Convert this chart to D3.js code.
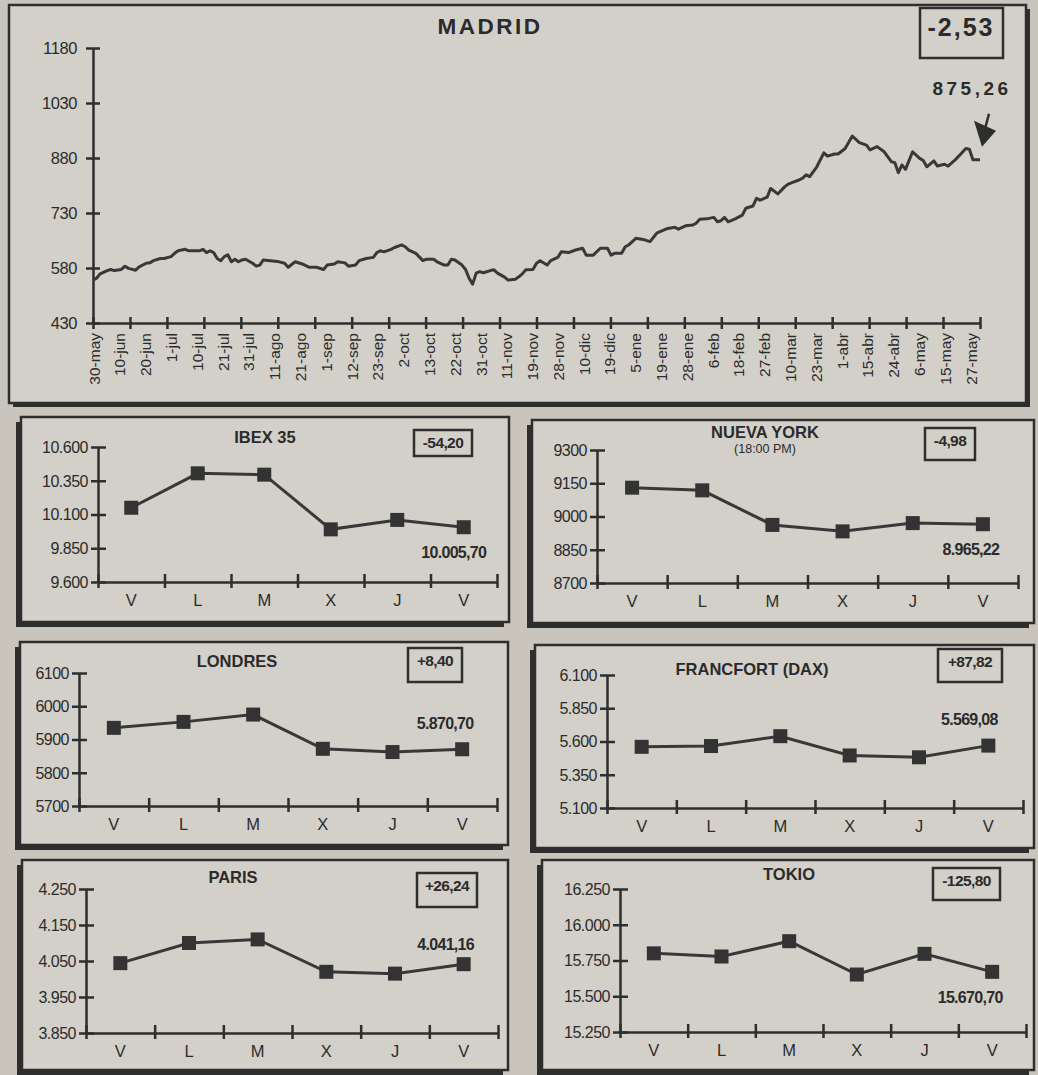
<!DOCTYPE html>
<html>
<head>
<meta charset="utf-8">
<script src="https://cdn.jsdelivr.net/npm/d3@7"></script>
<style>
  body { margin: 0; background: #c9c5bd; }
  svg text { font-family: "Liberation Sans", Arial, sans-serif; fill: #2b2b2b; }
</style>
</head>
<body>
<div id="canvas"></div>
<script>
// ---- Madrid general index, one value per trading session (30-may .. 27-may)
const madridSessions = [0, 1, 2, 4, 5, 6, 8, 9, 10, 12, 13, 15, 16, 17, 19, 20, 22, 23, 24, 26, 27, 30, 31, 32, 33, 34, 35, 36, 37, 38, 39, 40, 41, 42, 43, 45, 46, 47, 48, 50, 52, 54, 55, 57, 59, 61, 63, 65, 66, 68, 69, 71, 72, 74, 75, 77, 79, 80, 81, 82, 84, 85, 87, 88, 89, 91, 93, 94, 96, 97, 99, 100, 101, 102, 104, 105, 106, 107, 108, 109, 110, 112, 113, 114, 116, 117, 119, 120, 121, 122, 124, 125, 126, 128, 129, 131, 132, 134, 136, 138, 139, 141, 143, 145, 146, 147, 149, 150, 151, 153, 155, 157, 159, 161, 162, 164, 165, 167, 169, 170, 171, 173, 175, 176, 177, 178, 179, 181, 183, 184, 186, 187, 188, 190, 191, 193, 195, 196, 197, 199, 200, 201, 202, 204, 206, 207, 209, 210, 212, 214, 216, 218, 219, 221, 223, 225, 226, 227, 228, 229, 231, 233, 234, 235, 237, 238, 240, 241, 243, 244, 246, 247, 248, 250];
const madridValues = [547, 552, 564, 573, 576, 573, 576, 585, 579, 574, 583, 593, 594, 600, 606, 606, 611, 620, 627, 631, 627, 627, 631, 622, 627, 622, 606, 600, 611, 616, 597, 604, 597, 602, 604, 593, 585, 588, 602, 600, 598, 593, 582, 597, 591, 582, 582, 576, 588, 591, 597, 594, 585, 588, 600, 606, 609, 622, 627, 624, 631, 636, 643, 638, 629, 620, 600, 604, 604, 597, 588, 588, 604, 602, 588, 576, 552, 536, 566, 570, 567, 573, 575, 566, 555, 547, 549, 556, 564, 575, 576, 593, 600, 588, 600, 609, 624, 622, 629, 634, 615, 615, 634, 634, 615, 620, 620, 638, 643, 661, 658, 652, 676, 684, 688, 691, 686, 695, 697, 702, 713, 714, 718, 706, 709, 718, 706, 714, 724, 743, 749, 770, 765, 773, 797, 782, 802, 809, 813, 820, 825, 834, 829, 856, 894, 885, 891, 891, 906, 940, 922, 915, 902, 911, 897, 870, 867, 840, 861, 849, 897, 879, 873, 856, 872, 858, 863, 858, 875, 885, 906, 904, 875, 875.26];
const madridTicks = [430, 580, 730, 880, 1030, 1180];
const madridDates = ["30-may", "10-jun", "20-jun", "1-jul", "10-jul", "21-jul", "31-jul", "11-ago", "21-ago", "1-sep", "12-sep", "23-sep", "2-oct", "13-oct", "22-oct", "31-oct", "11-nov", "19-nov", "28-nov", "10-dic", "19-dic", "5-ene", "19-ene", "28-ene", "6-feb", "18-feb", "27-feb", "10-mar", "23-mar", "1-abr", "15-abr", "24-abr", "6-may", "15-may", "27-may"];
const madridChange = -2.53;

// ---- weekly panels
const days = ["V", "L", "M", "X", "J", "V"];
const ibexValues = [10150, 10405, 10395, 9990, 10059.90, 10005.70];
const ibexTicks = [9600, 9850, 10100, 10350, 10600];
const nyValues = [9130, 9118, 8962, 8933, 8970.20, 8965.22];
const nyTicks = [8700, 8850, 9000, 9150, 9300];
const londresValues = [5935, 5953, 5975, 5872, 5862.30, 5870.70];
const londresTicks = [5700, 5800, 5900, 6000, 6100];
const francfortValues = [5560, 5566, 5640, 5495, 5481.26, 5569.08];
const francfortTicks = [5100, 5350, 5600, 5850, 6100];
const parisValues = [4044, 4100, 4110, 4020, 4014.92, 4041.16];
const parisTicks = [3850, 3950, 4050, 4150, 4250];
const tokioValues = [15800, 15778, 15885, 15652, 15796.50, 15670.70];
const tokioTicks = [15250, 15500, 15750, 16000, 16250];

const ink = "#2e2e2e";
const paper = "#d3d0c9";

const loc = d3.formatLocale({ decimal: ",", thousands: ".", grouping: [3], currency: ["", ""], minus: "-" });
const fmtChange = loc.format("+.2f");
const fmtValue = loc.format(",.2f");
const fmtGroup = loc.format(",d");
const fmtPlain = loc.format("d");

const svg = d3.select("#canvas").append("svg")
    .attr("width", 1038)
    .attr("height", 1075);

function frame(x0, y0, x1, y1, sx, sy) {
    svg.append("rect")
        .attr("x", x0 + sx).attr("y", y0 + sy)
        .attr("width", x1 - x0).attr("height", y1 - y0)
        .attr("fill", ink);
    svg.append("rect")
        .attr("x", x0).attr("y", y0)
        .attr("width", x1 - x0).attr("height", y1 - y0)
        .attr("fill", paper)
        .attr("stroke", ink)
        .attr("stroke-width", 2.5);
}

function styleAxis(g) {
    g.select(".domain").attr("stroke", ink).attr("stroke-width", 2.5);
    g.selectAll(".tick line").attr("stroke", ink).attr("stroke-width", 2.5);
}

// ================= MADRID =================
frame(9, 5, 1026, 403, 4, 4);

const mx = d3.scaleLinear().domain([0, 250]).range([93, 980]);
const my = d3.scaleLinear().domain([430, 1180]).range([323, 48]);
const mTickPos = d3.scaleLinear().domain([0, 24]).range([93, 980]);
const mDate = d3.scalePoint().domain(madridDates).range([94, 971]);

// y axis with crossing ticks
const myAxis = svg.append("g")
    .attr("transform", "translate(93,0)")
    .call(d3.axisLeft(my).tickValues(madridTicks).tickSize(7).tickSizeOuter(0).tickFormat(""));
myAxis.selectAll(".tick line").attr("x2", 7).attr("x1", -7);
styleAxis(myAxis);
svg.append("g").selectAll("text")
    .data(madridTicks)
    .join("text")
    .attr("x", 77)
    .attr("y", d => my(d))
    .attr("dy", "0.36em")
    .attr("text-anchor", "end")
    .attr("font-size", 16.5)
    .attr("letter-spacing", -0.4)
    .text(d => fmtPlain(d));

// x axis: evenly spaced ticks, date labels on their own point scale
const mxAxis = svg.append("g")
    .attr("transform", "translate(0,323)")
    .call(d3.axisBottom(mTickPos).tickValues(d3.range(25)).tickSize(6).tickSizeOuter(0).tickFormat(""));
mxAxis.selectAll(".tick line").attr("y1", -6).attr("y2", 6);
styleAxis(mxAxis);
svg.append("g").selectAll("text")
    .data(madridDates)
    .join("text")
    .attr("transform", d => `translate(${mDate(d)},333) rotate(-90)`)
    .attr("dy", "0.36em")
    .attr("text-anchor", "end")
    .attr("font-size", 15.5)
    .text(d => d);

const madridData = madridSessions.map((s, i) => ({ s: s, v: madridValues[i] }));
svg.append("path")
    .datum(madridData)
    .attr("fill", "none")
    .attr("stroke", "#383838")
    .attr("stroke-width", 3)
    .attr("stroke-linejoin", "round")
    .attr("d", d3.line().x(d => mx(d.s)).y(d => my(d.v)));

svg.append("text")
    .attr("x", 490).attr("y", 34)
    .attr("text-anchor", "middle")
    .attr("font-size", 22.5)
    .attr("font-weight", "bold")
    .attr("letter-spacing", 2.5)
    .text("MADRID");

svg.append("rect")
    .attr("x", 920).attr("y", 8).attr("width", 83).attr("height", 50)
    .attr("fill", "none").attr("stroke", ink).attr("stroke-width", 2.5);
svg.append("text")
    .attr("x", 961).attr("y", 36)
    .attr("text-anchor", "middle")
    .attr("font-size", 25)
    .attr("font-weight", "bold")
    .attr("letter-spacing", 2)
    .text(fmtChange(madridChange));

const last = madridData[madridData.length - 1];
const lx = mx(last.s), ly = my(last.v);
svg.append("text")
    .attr("x", lx - 8).attr("y", 95)
    .attr("text-anchor", "middle")
    .attr("font-size", 19)
    .attr("font-weight", "bold")
    .attr("letter-spacing", 3.5)
    .text(fmtValue(last.v));
// arrow pointing at the last value
const tipX = lx + 2, tipY = ly - 13;
svg.append("line")
    .attr("x1", tipX + 7).attr("y1", tipY - 33)
    .attr("x2", tipX + 3).attr("y2", tipY - 18)
    .attr("stroke", ink).attr("stroke-width", 2.5);
svg.append("path")
    .attr("d", `M${tipX},${tipY} L${tipX - 8},${tipY - 26} L${tipX + 14},${tipY - 16} Z`)
    .attr("fill", ink);

// ================= WEEKLY PANELS =================
const panels = [
    { title: "IBEX 35", values: ibexValues, ticks: ibexTicks, change: -54.20, group: true,
      box: [21, 417, 509, 622], ax: 98, yTop: 447, yBot: 582, xEnd: 497,
      tx: 265, ty: 443, cbox: [414, 430, 58, 26], ldx: -10, ldy: 31 },
    { title: "NUEVA YORK", sub: "(18:00 PM)", values: nyValues, ticks: nyTicks, change: -4.98, group: false,
      box: [532, 420, 1034, 623], ax: 597, yTop: 450, yBot: 583, xEnd: 1018,
      tx: 765, ty: 438, cbox: [925, 428, 50, 32], ldx: -12, ldy: 31 },
    { title: "LONDRES", values: londresValues, ticks: londresTicks, change: 8.40, group: false,
      box: [20, 642, 508, 845], ax: 79, yTop: 673, yBot: 806, xEnd: 497,
      tx: 237, ty: 667, cbox: [408, 648, 54, 34], ldx: -17, ldy: -20 },
    { title: "FRANCFORT (DAX)", values: francfortValues, ticks: francfortTicks, change: 87.82, group: true,
      box: [535, 645, 1034, 848], ax: 607, yTop: 675, yBot: 808, xEnd: 1023,
      tx: 752, ty: 675, cbox: [938, 649, 64, 33], ldx: -19, ldy: -21 },
    { title: "PARIS", values: parisValues, ticks: parisTicks, change: 26.24, group: true,
      box: [22, 860, 508, 1070], ax: 86, yTop: 889, yBot: 1033, xEnd: 498,
      tx: 233, ty: 883, cbox: [417, 873, 60, 34], ldx: -18, ldy: -14 },
    { title: "TOKIO", values: tokioValues, ticks: tokioTicks, change: -125.80, group: true,
      box: [542, 860, 1034, 1070], ax: 620, yTop: 889, yBot: 1032, xEnd: 1026,
      tx: 789, ty: 880, cbox: [933, 868, 67, 32], ldx: -22, ldy: 31 }
];

panels.forEach(p => {
    frame(p.box[0], p.box[1], p.box[2], p.box[3], -5, 5);

    const x = d3.scaleBand().domain(d3.range(days.length)).range([p.ax, p.xEnd]);
    const y = d3.scaleLinear().domain([p.ticks[0], p.ticks[p.ticks.length - 1]]).range([p.yBot, p.yTop]);
    const g = svg.append("g");

    const ya = g.append("g")
        .attr("transform", `translate(${p.ax},0)`)
        .call(d3.axisLeft(y).tickValues(p.ticks).tickSizeOuter(0).tickFormat(""));
    ya.selectAll(".tick line").attr("x1", -7).attr("x2", 8);
    styleAxis(ya);

    g.append("g").selectAll("text")
        .data(p.ticks)
        .join("text")
        .attr("x", p.ax - 10)
        .attr("y", d => y(d))
        .attr("dy", "0.36em")
        .attr("text-anchor", "end")
        .attr("font-size", 16)
        .attr("letter-spacing", -0.5)
        .text(d => (p.group ? fmtGroup(d) : fmtPlain(d)));

    // x axis: ticks on band edges, day letters at band centres
    const edges = d3.range(days.length + 1).map(i => p.ax + i * x.step());
    const xa = g.append("g")
        .attr("transform", `translate(0,${p.yBot})`)
        .call(d3.axisBottom(d3.scaleLinear().domain([p.ax, p.xEnd]).range([p.ax, p.xEnd]))
            .tickValues(edges).tickSizeOuter(0).tickFormat(""));
    xa.selectAll(".tick line").attr("y1", -8).attr("y2", 6);
    styleAxis(xa);

    g.append("g").selectAll("text")
        .data(days)
        .join("text")
        .attr("x", (d, i) => x(i) + x.bandwidth() / 2)
        .attr("y", p.yBot + 24)
        .attr("text-anchor", "middle")
        .attr("font-size", 16.5)
        .text(d => d);

    g.append("path")
        .datum(p.values)
        .attr("fill", "none")
        .attr("stroke", "#383838")
        .attr("stroke-width", 3)
        .attr("d", d3.line().x((d, i) => x(i) + x.bandwidth() / 2).y(d => y(d)));

    g.selectAll("rect.pt")
        .data(p.values)
        .join("rect")
        .attr("class", "pt")
        .attr("x", (d, i) => x(i) + x.bandwidth() / 2 - 7)
        .attr("y", d => y(d) - 7)
        .attr("width", 14)
        .attr("height", 14)
        .attr("fill", "#333");

    g.append("text")
        .attr("x", p.tx).attr("y", p.ty)
        .attr("text-anchor", "middle")
        .attr("font-size", 16.5)
        .attr("font-weight", "bold")
        .text(p.title);
    if (p.sub) {
        g.append("text")
            .attr("x", p.tx).attr("y", p.ty + 15)
            .attr("text-anchor", "middle")
            .attr("font-size", 12.5)
            .text(p.sub);
    }

    g.append("rect")
        .attr("x", p.cbox[0]).attr("y", p.cbox[1])
        .attr("width", p.cbox[2]).attr("height", p.cbox[3])
        .attr("fill", "none").attr("stroke", ink).attr("stroke-width", 2.5);
    g.append("text")
        .attr("x", p.cbox[0] + p.cbox[2] / 2).attr("y", p.cbox[1] + 18)
        .attr("text-anchor", "middle")
        .attr("font-size", 15.5)
        .attr("font-weight", "bold")
        .attr("letter-spacing", -0.6)
        .text(fmtChange(p.change));

    const n = p.values.length - 1;
    g.append("text")
        .attr("x", x(n) + x.bandwidth() / 2 + p.ldx)
        .attr("y", y(p.values[n]) + p.ldy)
        .attr("text-anchor", "middle")
        .attr("font-size", 16)
        .attr("font-weight", "bold")
        .attr("letter-spacing", -0.7)
        .text(fmtValue(p.values[n]));
});
</script>
</body>
</html>
